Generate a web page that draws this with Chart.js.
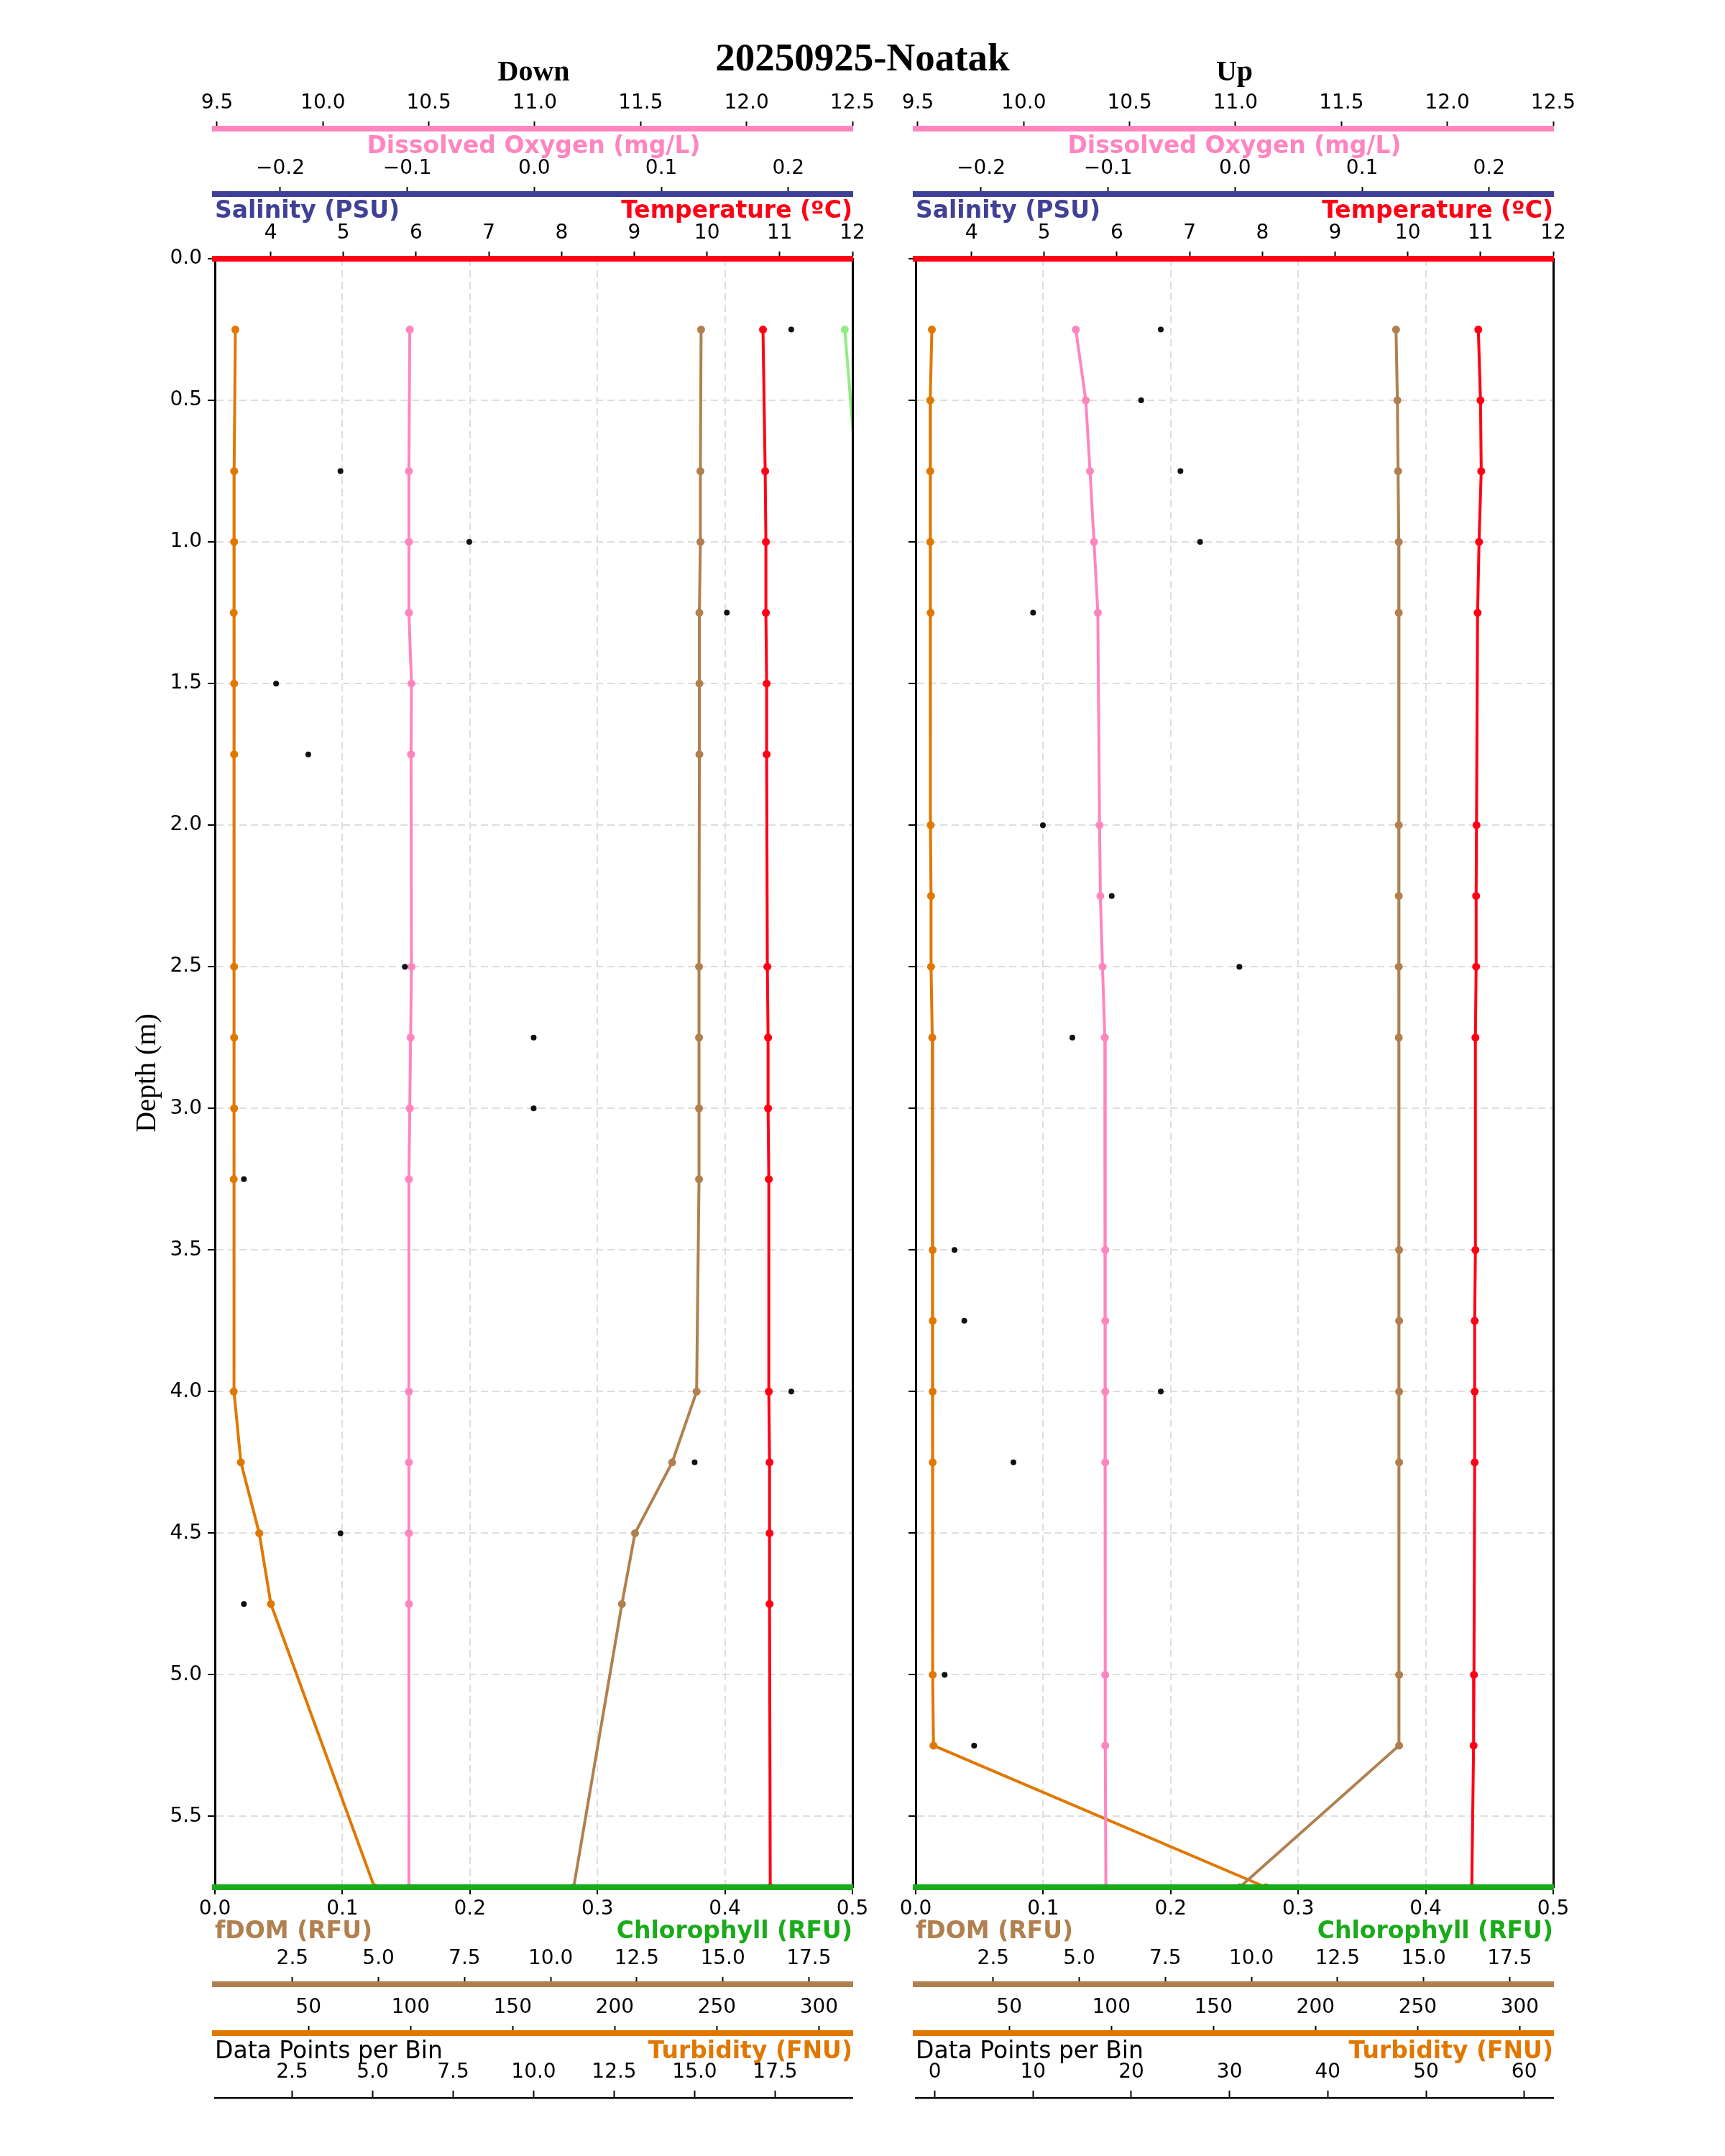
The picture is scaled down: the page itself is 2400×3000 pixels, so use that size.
<!DOCTYPE html>
<html>
<head>
<meta charset="utf-8">
<script src="https://cdn.jsdelivr.net/npm/chart.js@4.4.1/dist/chart.umd.min.js"></script>
<style>
html,body{margin:0;padding:0;background:#fff;}
#page{position:relative;width:2400px;height:3000px;background:#fff;overflow:hidden;}
canvas{position:absolute;}
#title{position:absolute;left:0;top:48px;width:2400px;text-align:center;font-family:'Liberation Serif';font-weight:bold;font-size:55px;line-height:64px;color:#000;}
</style>
</head>
<body>
<div id="page">
<canvas id="downMain" width="1240" height="2720" style="left:0px;top:0px;width:1240px;height:2720px"></canvas>
<canvas id="downBottom" width="1240" height="280" style="left:0px;top:2680px;width:1240px;height:280px"></canvas>
<canvas id="upMain" width="1160" height="2720" style="left:1240px;top:0px;width:1160px;height:2720px"></canvas>
<canvas id="upBottom" width="1160" height="280" style="left:1240px;top:2680px;width:1160px;height:280px"></canvas>
<div id="title">20250925-Noatak</div>
</div>
<script>
// ---------------- DATA ----------------
// Down cast
const depthDown = [0.25, 0.75, 1.0, 1.25, 1.5, 1.75, 2.5, 2.75, 3.0, 3.25, 4.0, 4.25, 4.5, 4.75, 5.75];
const tempDown  = [10.77, 10.80, 10.81, 10.81, 10.82, 10.82, 10.83, 10.84, 10.84, 10.85, 10.85, 10.86, 10.86, 10.86, 10.87];
const doDown    = [10.410, 10.406, 10.406, 10.406, 10.418, 10.416, 10.418, 10.414, 10.410, 10.406, 10.406, 10.406, 10.406, 10.406, 10.406];
const fdomDown  = [14.37, 14.35, 14.35, 14.32, 14.32, 14.32, 14.31, 14.31, 14.31, 14.31, 14.24, 13.53, 12.45, 12.07, 10.67];
const turbDown  = [14.2, 13.6, 13.6, 13.4, 13.6, 13.6, 13.6, 13.6, 13.6, 13.4, 13.4, 16.9, 25.9, 31.6, 82.3];
// chlorophyll: only the first two bins are readable; the rest lie beyond the 0.5 RFU axis limit
const chlDown   = [0.494, 0.503, null, null, null, null, null, null, null, null, null, null, null, null, null];
const countDown = [18, 4, 8, 16, 2, 3, 6, 10, 10, 1, 18, 15, 4, 1, 19];

// Up cast
const depthUp = [0.25, 0.5, 0.75, 1.0, 1.25, 2.0, 2.25, 2.5, 2.75, 3.5, 3.75, 4.0, 4.25, 5.0, 5.25, 5.75];
const tempUp  = [10.97, 11.00, 11.01, 10.98, 10.96, 10.945, 10.94, 10.94, 10.93, 10.93, 10.92, 10.92, 10.92, 10.91, 10.905, 10.88];
const doUp    = [10.246, 10.293, 10.313, 10.332, 10.350, 10.358, 10.362, 10.372, 10.383, 10.385, 10.385, 10.385, 10.385, 10.385, 10.385, 10.388];
const fdomUp  = [14.20, 14.24, 14.26, 14.28, 14.28, 14.28, 14.28, 14.28, 14.28, 14.29, 14.29, 14.29, 14.29, 14.29, 14.29, 9.66];
const turbUp  = [12.1, 11.3, 11.3, 11.3, 11.5, 11.5, 11.7, 11.7, 12.3, 12.5, 12.5, 12.5, 12.5, 12.5, 12.9, 175.7];
const countUp = [23, 21, 25, 27, 10, 11, 18, 31, 14, 2, 3, 23, 8, 1, 4, 60];

// Tick labels
const depthTicks = [0, 0.5, 1.0, 1.5, 2.0, 2.5, 3.0, 3.5, 4.0, 4.5, 5.0, 5.5];
const tempTicks  = [4, 5, 6, 7, 8, 9, 10, 11, 12];
const salTicks   = [-0.2, -0.1, 0.0, 0.1, 0.2];
const doTicks    = [9.5, 10.0, 10.5, 11.0, 11.5, 12.0, 12.5];
const chlTicks   = [0, 0.1, 0.2, 0.3, 0.4, 0.5];
const fdomTicks  = [2.5, 5.0, 7.5, 10.0, 12.5, 15.0, 17.5];
const turbTicks  = [50, 100, 150, 200, 250, 300];
const countTicksDown = [2.5, 5.0, 7.5, 10.0, 12.5, 15.0, 17.5];
const countTicksUp   = [0, 10, 20, 30, 40, 50, 60];

// Axis ranges
const depthRange = [0, 5.75];
const tempRange  = [3.233, 12.0];
const salRange   = [-0.2515, 0.2505];
const doRange    = [9.49, 12.5];
const chlRange   = [0, 0.5];
const fdomRange  = [0.249, 18.766];
const turbRange  = [4.18, 316.4];
const countRangeDown = [0.1, 19.9];
const countRangeUp   = [-1.95, 62.95];

// ---------------- STYLE ----------------
const C = {
  temp: '#ff0015', sal: '#404096', dox: '#ff85c0', chlAxis: '#1aab1a', chlLine: '#90ee80',
  fdom: '#b0804f', turb: '#e07800', count: '#111111', grid: '#dedede'
};
Chart.defaults.font.family = "'DejaVu Sans'";
Chart.defaults.font.size = 28;
Chart.defaults.color = '#000';

const fmt1 = v => Number(v).toFixed(1).replace('-', '\u2212');
const fmt0 = v => Number(v).toFixed(0);
const setTicks = list => s => { s.ticks = list.map(v => ({value: v})); };
const fixH = h => s => { s.height = h; s.paddingLeft = 0; s.paddingRight = 0; };
const fixW = w => s => { s.width = w; s.paddingTop = 0; s.paddingBottom = 0; };

function visX(position, weight, range, tickList, fmt, color, bw, h, pad) {
  return {
    type: 'linear', axis: 'x', position, weight, min: range[0], max: range[1], bounds: 'data',
    afterBuildTicks: setTicks(tickList), afterFit: fixH(h),
    ticks: {callback: v => fmt(v), padding: pad, autoSkip: false, maxRotation: 0, minRotation: 0, color: '#000', font: {size: 28}},
    grid: {drawOnChartArea: false, drawTicks: true, tickLength: 10, tickWidth: 2, tickColor: '#000'},
    border: {display: true, color, width: bw, z: 1}
  };
}
function hidX(range) {
  return {type: 'linear', axis: 'x', position: 'bottom', weight: 9, display: false, min: range[0], max: range[1], bounds: 'data'};
}
function ds(label, vals, depths, axisId, color, showLine, r) {
  return {
    label, data: depths.map((d, i) => ({x: vals[i], y: d})), xAxisID: axisId, yAxisID: 'y',
    showLine, borderColor: color, backgroundColor: color, borderWidth: 4,
    pointRadius: r, pointHoverRadius: r, pointBorderWidth: 0, pointBackgroundColor: color, spanGaps: false
  };
}
function labelPlugin(items) {
  return {
    id: 'axisLabels',
    afterDraw(chart) {
      const {ctx, chartArea, scales} = chart;
      items.forEach(it => {
        const s = scales[it.scale];
        const spine = s.position === 'bottom' ? s.top : s.bottom;
        const x = it.align === 'left' ? chartArea.left : it.align === 'right' ? chartArea.right : (chartArea.left + chartArea.right) / 2;
        ctx.save();
        ctx.font = (it.bold ? 'bold ' : '') + "33px 'DejaVu Sans'";
        ctx.fillStyle = it.color;
        ctx.textAlign = it.align;
        ctx.textBaseline = 'middle';
        ctx.fillText(it.text, x, spine + it.dy);
        ctx.restore();
      });
    }
  };
}

function mainChart(canvasId, p) {
  const scales = {
    y: {
      type: 'linear', axis: 'y', position: 'left', min: depthRange[0], max: depthRange[1], reverse: true, bounds: 'data',
      afterBuildTicks: setTicks(depthTicks), afterFit: fixW(p.yWidth),
      ticks: {display: p.yLabels, callback: v => fmt1(v), padding: 8, autoSkip: false, font: {size: 28}, color: '#000'},
      grid: {drawOnChartArea: true, color: C.grid, lineWidth: 2, drawTicks: true, tickLength: 10, tickWidth: 2, tickColor: '#000'},
      border: {display: true, color: '#000', width: 3, z: 1, dash: [10, 6]},
      title: {display: p.yLabels, text: 'Depth (m)', color: '#000', font: {family: "'Liberation Serif'", size: 40, weight: 'normal'}, padding: {top: 181, bottom: 0}}
    },
    yr: {
      type: 'linear', axis: 'y', position: 'right', min: 0, max: 1, afterFit: fixW(0),
      ticks: {display: false}, grid: {drawOnChartArea: false, drawTicks: false},
      border: {display: true, color: '#000', width: 3, z: 1}
    },
    temp: visX('top', 1, tempRange, tempTicks, fmt0, C.temp, 8, 90, 8),
    sal:  visX('top', 2, salRange, salTicks, fmt1, C.sal, 8, 91, 8),
    dox:  visX('top', 3, doRange, doTicks, fmt1, C.dox, 8, 53, 8),
    chl:  visX('bottom', 1, chlRange, chlTicks, fmt1, C.chlAxis, 8, 94, 4),
    fd: hidX(fdomRange),
    tb: hidX(turbRange),
    ct: hidX(p.countRange)
  };
  scales.chl.grid = {drawOnChartArea: true, color: C.grid, lineWidth: 2, drawTicks: true, tickLength: 10, tickWidth: 2, tickColor: '#000'};
  scales.chl.border.dash = [10, 6];

  const datasets = [
    ds('Data Points per Bin', p.count, p.depth, 'ct', C.count, false, 4),
    ds('Temperature (ºC)', p.temp, p.depth, 'temp', C.temp, true, 5.5),
    ds('Dissolved Oxygen (mg/L)', p.dox, p.depth, 'dox', C.dox, true, 5.5),
    ds('fDOM (RFU)', p.fdom, p.depth, 'fd', C.fdom, true, 5.5),
    ds('Turbidity (FNU)', p.turb, p.depth, 'tb', C.turb, true, 5.5)
  ];
  if (p.chl) datasets.push(ds('Chlorophyll (RFU)', p.chl, p.depth, 'chl', C.chlLine, true, 5.5));

  return new Chart(document.getElementById(canvasId), {
    type: 'scatter',
    data: {datasets},
    options: {
      responsive: false, animation: false, devicePixelRatio: 1, events: [],
      layout: {autoPadding: false, padding: {left: 0, right: p.padRight, top: 0, bottom: 0}},
      plugins: {
        legend: {display: false}, tooltip: {enabled: false},
        title: {display: true, fullSize: false, text: p.title, color: '#000', font: {family: "'Liberation Serif'", size: 40, weight: 'bold'}, padding: {top: 78, bottom: 0}}
      },
      scales
    },
    plugins: [labelPlugin([
      {scale: 'sal', dy: -66, align: 'center', text: 'Dissolved Oxygen (mg/L)', color: C.dox, bold: true},
      {scale: 'temp', dy: -66, align: 'left', text: 'Salinity (PSU)', color: C.sal, bold: true},
      {scale: 'temp', dy: -66, align: 'right', text: 'Temperature (ºC)', color: C.temp, bold: true},
      {scale: 'chl', dy: 62, align: 'left', text: 'fDOM (RFU)', color: C.fdom, bold: true},
      {scale: 'chl', dy: 62, align: 'right', text: 'Chlorophyll (RFU)', color: C.chlAxis, bold: true}
    ])]
  });
}

function bottomChart(canvasId, p) {
  return new Chart(document.getElementById(canvasId), {
    type: 'scatter',
    data: {datasets: []},
    options: {
      responsive: false, animation: false, devicePixelRatio: 1, events: [],
      layout: {autoPadding: false, padding: {left: p.padLeft, right: p.padRight, top: 0, bottom: 35}},
      plugins: {legend: {display: false}, tooltip: {enabled: false}, title: {display: false}},
      scales: {
        y: {type: 'linear', axis: 'y', position: 'left', display: false, min: 0, max: 1},
        ct: visX('top', 1, p.countRange, p.countTicks, p.countFmt, '#000', 2.5, 90, 8),
        tb: visX('top', 2, turbRange, turbTicks, fmt0, C.turb, 8, 68, 8),
        fd: visX('top', 3, fdomRange, fdomTicks, fmt1, C.fdom, 8, 81, 8)
      }
    },
    plugins: [labelPlugin([
      {scale: 'ct', dy: -64, align: 'left', text: 'Data Points per Bin', color: '#000', bold: false},
      {scale: 'ct', dy: -64, align: 'right', text: 'Turbidity (FNU)', color: C.turb, bold: true}
    ])]
  });
}

mainChart('downMain', {title: 'Down', yWidth: 299, yLabels: true, padRight: 54, countRange: countRangeDown,
  depth: depthDown, temp: tempDown, dox: doDown, fdom: fdomDown, turb: turbDown, chl: chlDown, count: countDown});
mainChart('upMain', {title: 'Up', yWidth: 34, yLabels: false, padRight: 239, countRange: countRangeUp,
  depth: depthUp, temp: tempUp, dox: doUp, fdom: fdomUp, turb: turbUp, chl: null, count: countUp});
bottomChart('downBottom', {padLeft: 299, padRight: 54, countRange: countRangeDown, countTicks: countTicksDown, countFmt: fmt1});
bottomChart('upBottom', {padLeft: 34, padRight: 239, countRange: countRangeUp, countTicks: countTicksUp, countFmt: fmt0});
</script>
</body>
</html>
